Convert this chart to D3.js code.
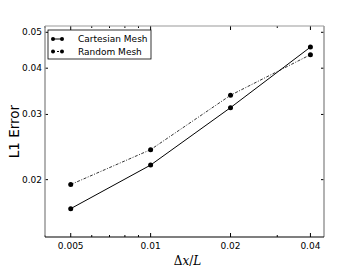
<!DOCTYPE html>
<html>
<head>
<meta charset="utf-8">
<script src="https://cdn.jsdelivr.net/npm/d3@7"></script>
<style>
  body { margin: 0; background: #fff; }
  svg { display: block; }
  text { font-family: "DejaVu Sans", sans-serif; }
</style>
</head>
<body>
<svg id="chart" width="360" height="270"></svg>
<script>
var dx = [0.005, 0.01, 0.02, 0.04];
var cartesian = [0.0167, 0.0219, 0.0313, 0.0456];
var random = [0.0194, 0.0241, 0.0338, 0.0435];
var xTicks = [0.005, 0.01, 0.02, 0.04];
var xMinor = [0.004, 0.006, 0.007, 0.008, 0.009, 0.03];
var yTicks = [0.02, 0.03, 0.04, 0.05];

var margin = { top: 26, right: 36, bottom: 33, left: 45 };
var width = 360 - margin.left - margin.right,
    height = 270 - margin.top - margin.bottom;

var svg = d3.select('#chart');
var g = svg.append('g')
    .attr('transform', 'translate(' + margin.left + ',' + margin.top + ')');

var x = d3.scaleLog().domain([0.004, 0.045]).range([0, width]);
var y = d3.scaleLog().domain([0.014, 0.052]).range([height, 0]);

// ticks on all four sides, pointing inward
function tickMarks(vals, len) {
    vals.forEach(function (v) {
        g.append('line').attr('x1', x(v)).attr('x2', x(v)).attr('y1', height).attr('y2', height - len).attr('stroke', '#000');
        g.append('line').attr('x1', x(v)).attr('x2', x(v)).attr('y1', 0).attr('y2', len).attr('stroke', '#000');
    });
}
tickMarks(xTicks, 4);
tickMarks(xMinor, 2);
yTicks.forEach(function (v) {
    g.append('line').attr('x1', 0).attr('x2', 3).attr('y1', y(v)).attr('y2', y(v)).attr('stroke', '#000');
    g.append('line').attr('x1', width).attr('x2', width - 3).attr('y1', y(v)).attr('y2', y(v)).attr('stroke', '#000');
});

g.selectAll('.xlab').data(xTicks).enter().append('text')
    .attr('x', function (d) { return x(d); })
    .attr('y', height + 12)
    .attr('text-anchor', 'middle')
    .style('font-size', '9px')
    .text(function (d) { return d3.format('')(d); });

g.selectAll('.ylab').data(yTicks).enter().append('text')
    .attr('x', -3)
    .attr('y', function (d) { return y(d) + 3; })
    .attr('text-anchor', 'end')
    .style('font-size', '9px')
    .text(function (d) { return d3.format('.2f')(d); });

// spines
g.append('line').attr('x1', 0).attr('x2', 0).attr('y1', 0).attr('y2', height).attr('stroke', '#999').attr('stroke-width', 1.5);
g.append('line').attr('x1', width).attr('x2', width).attr('y1', 0).attr('y2', height).attr('stroke', '#999').attr('stroke-width', 1.5);
g.append('line').attr('x1', 0).attr('x2', width).attr('y1', 0).attr('y2', 0).attr('stroke', '#999').attr('stroke-width', 1.2);
g.append('line').attr('x1', 0).attr('x2', width).attr('y1', height).attr('y2', height).attr('stroke', '#000').attr('stroke-width', 1.2);

var line = d3.line()
    .x(function (d, i) { return x(dx[i]); })
    .y(function (d) { return y(d); });

g.append('path').datum(cartesian).attr('d', line)
    .attr('fill', 'none').attr('stroke', '#000').attr('stroke-width', 1);
g.append('path').datum(random).attr('d', line)
    .attr('fill', 'none').attr('stroke', '#000').attr('stroke-width', 0.8)
    .attr('stroke-dasharray', '3,1.5,1,1.5');

g.selectAll('.cpt').data(cartesian).enter().append('circle')
    .attr('cx', function (d, i) { return x(dx[i]); })
    .attr('cy', function (d) { return y(d); })
    .attr('r', 2.5).attr('fill', '#000');
g.selectAll('.rpt').data(random).enter().append('circle')
    .attr('cx', function (d, i) { return x(dx[i]); })
    .attr('cy', function (d) { return y(d); })
    .attr('r', 2.5).attr('fill', '#000');

// legend
var legend = g.append('g').attr('transform', 'translate(3,4)');
legend.append('rect').attr('width', 103).attr('height', 29)
    .attr('fill', '#fff').attr('stroke', '#000').attr('stroke-width', 0.8);
var items = [{ name: 'Cartesian Mesh', dash: null }, { name: 'Random Mesh', dash: '2,2' }];
items.forEach(function (it, i) {
    var ly = 9 + i * 12.5;
    legend.append('line').attr('x1', 5).attr('x2', 14).attr('y1', ly).attr('y2', ly)
        .attr('stroke', '#000').attr('stroke-width', 1).attr('stroke-dasharray', it.dash);
    legend.append('circle').attr('cx', 5).attr('cy', ly).attr('r', 2).attr('fill', '#000');
    legend.append('circle').attr('cx', 14).attr('cy', ly).attr('r', 2).attr('fill', '#000');
    legend.append('text').attr('x', 30).attr('y', ly + 3.3).style('font-size', '9px').text(it.name);
});

// axis labels
svg.append('text')
    .attr('transform', 'translate(19,' + (margin.top + height / 2) + ') rotate(-90)')
    .attr('text-anchor', 'middle')
    .style('font-size', '13.5px')
    .text('L1 Error');

var xl = svg.append('text')
    .attr('x', margin.left + width / 2 + 3)
    .attr('y', 265)
    .attr('text-anchor', 'middle')
    .style('font-family', '"DejaVu Serif", serif')
    .style('font-size', '12px');
xl.append('tspan').text('\u0394');
xl.append('tspan').style('font-style', 'italic').text('x');
xl.append('tspan').text('/');
xl.append('tspan').style('font-style', 'italic').text('L');
</script>
</body>
</html>
